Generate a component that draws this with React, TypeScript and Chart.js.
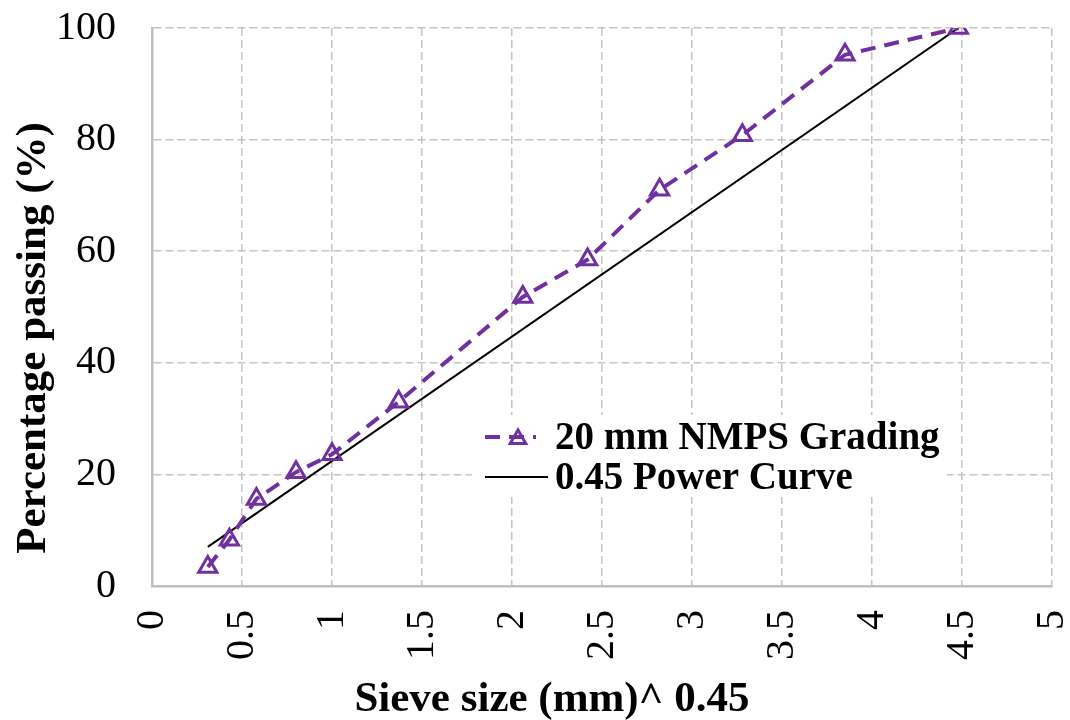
import React, { useEffect, useRef } from "react";
import { Chart, registerables } from "chart.js";

Chart.register(...registerables);

// Sieve size (mm)^0.45 and percentage passing
const gradingX = [0.31, 0.43, 0.58, 0.8, 1.0, 1.37, 2.06, 2.42, 2.82, 3.28, 3.85, 4.48];
const gradingY = [3.4, 8.3, 15.6, 20.4, 23.6, 33, 51.8, 58.5, 71, 80.8, 95.2, 100];
// 0.45 power curve end points
const powerX = [0.31, 4.48];
const powerY = [7, 100];

const seriesNames = ["20 mm NMPS Grading", "0.45 Power Curve"];
const xTitle = "Sieve size (mm)^ 0.45";
const yTitle = "Percentage passing (%)";
const xTicks = { min: 0, max: 5, step: 0.5 };
const yTicks = { min: 0, max: 100, step: 20 };

const PURPLE = "#7030A0";
const GRID = "#c4c4c4";
const SERIF = "'Liberation Serif', 'Times New Roman', serif";

function drawTriangle(ctx: CanvasRenderingContext2D, x: number, y: number, r: number) {
  const TWO_THIRDS_PI = (Math.PI * 2) / 3;
  let rad = 0;
  ctx.beginPath();
  ctx.moveTo(x + Math.sin(rad) * r, y - Math.cos(rad) * r);
  rad += TWO_THIRDS_PI;
  ctx.lineTo(x + Math.sin(rad) * r, y - Math.cos(rad) * r);
  rad += TWO_THIRDS_PI;
  ctx.lineTo(x + Math.sin(rad) * r, y - Math.cos(rad) * r);
  ctx.closePath();
  ctx.stroke();
}

const decorPlugin = {
  id: "decor",
  afterDraw(chart: any) {
    const ctx: CanvasRenderingContext2D = chart.ctx;
    ctx.save();
    // Axis titles
    ctx.fillStyle = "#000";
    ctx.font = `bold 43px ${SERIF}`;
    ctx.textAlign = "center";
    ctx.textBaseline = "alphabetic";
    ctx.fillText(xTitle, 552, 711);
    ctx.save();
    ctx.translate(45, 338);
    ctx.rotate(-Math.PI / 2);
    ctx.fillText(yTitle, 0, 0);
    ctx.restore();

    // Legend
    ctx.fillStyle = "#fff";
    ctx.fillRect(472, 415, 475, 82);
    // row 1
    ctx.strokeStyle = PURPLE;
    ctx.lineWidth = 4;
    ctx.setLineDash([15, 9]);
    ctx.beginPath();
    ctx.moveTo(485, 437);
    ctx.lineTo(536, 437);
    ctx.stroke();
    ctx.setLineDash([]);
    ctx.lineWidth = 3;
    drawTriangle(ctx, 518, 439, 9);
    // row 2
    ctx.strokeStyle = "#000";
    ctx.lineWidth = 2;
    ctx.beginPath();
    ctx.moveTo(485, 477);
    ctx.lineTo(548, 477);
    ctx.stroke();
    ctx.fillStyle = "#000";
    ctx.font = `bold 39px ${SERIF}`;
    ctx.textAlign = "left";
    ctx.fillText(seriesNames[0], 555, 449);
    ctx.fillText(seriesNames[1], 555, 489);
    ctx.restore();
  },
};

export default function App() {
  const ref = useRef<HTMLCanvasElement | null>(null);

  useEffect(() => {
    if (!ref.current) return;
    const chart = new Chart(ref.current, {
      type: "scatter",
      data: {
        datasets: [
          {
            label: seriesNames[0],
            data: gradingX.map((x, i) => ({ x, y: gradingY[i] })),
            showLine: true,
            borderColor: PURPLE,
            borderWidth: 4,
            borderDash: [15, 9],
            pointStyle: "triangle",
            pointRadius: 10.5,
            pointHoverRadius: 10.5,
            pointBorderWidth: 3,
            pointBorderColor: PURPLE,
            pointBackgroundColor: "rgba(0,0,0,0)",
            order: 1,
          },
          {
            label: seriesNames[1],
            data: powerX.map((x, i) => ({ x, y: powerY[i] })),
            showLine: true,
            borderColor: "#000",
            borderWidth: 2,
            pointRadius: 0,
            order: 2,
          },
        ],
      },
      options: {
        animation: false,
        responsive: true,
        maintainAspectRatio: false,
        layout: { padding: { top: 28, right: 18, left: 0, bottom: 0 } },
        plugins: {
          legend: { display: false },
          tooltip: { enabled: false },
        },
        scales: {
          x: {
            type: "linear",
            min: xTicks.min,
            max: xTicks.max,
            afterFit: (s: any) => {
              s.height = 134;
              s.paddingLeft = 0;
              s.paddingRight = 0;
            },
            ticks: {
              stepSize: xTicks.step,
              minRotation: 90,
              maxRotation: 90,
              autoSkip: false,
              padding: 24,
              color: "#000",
              font: { family: SERIF, size: 40 },
              callback: (v: any) => String(v),
            },
            grid: { color: GRID, lineWidth: 1.5, drawTicks: false },
            border: { display: true, color: "#bfbfbf", width: 2.5, dash: [8, 4] },
          },
          y: {
            type: "linear",
            min: yTicks.min,
            max: yTicks.max,
            afterFit: (s: any) => {
              s.width = 152;
              s.paddingTop = 0;
              s.paddingBottom = 0;
            },
            ticks: {
              stepSize: yTicks.step,
              padding: 36,
              color: "#000",
              font: { family: SERIF, size: 40 },
              callback: (v: any) => String(v),
            },
            grid: { color: GRID, lineWidth: 1.5, drawTicks: false },
            border: { display: true, color: "#bfbfbf", width: 2.5, dash: [8, 4] },
          },
        },
      },
      plugins: [decorPlugin],
    });
    return () => chart.destroy();
  }, []);

  return (
    <div style={{ position: "fixed", left: 0, top: 0, width: 1070, height: 720, background: "#fff" }}>
      <canvas ref={ref} />
    </div>
  );
}
